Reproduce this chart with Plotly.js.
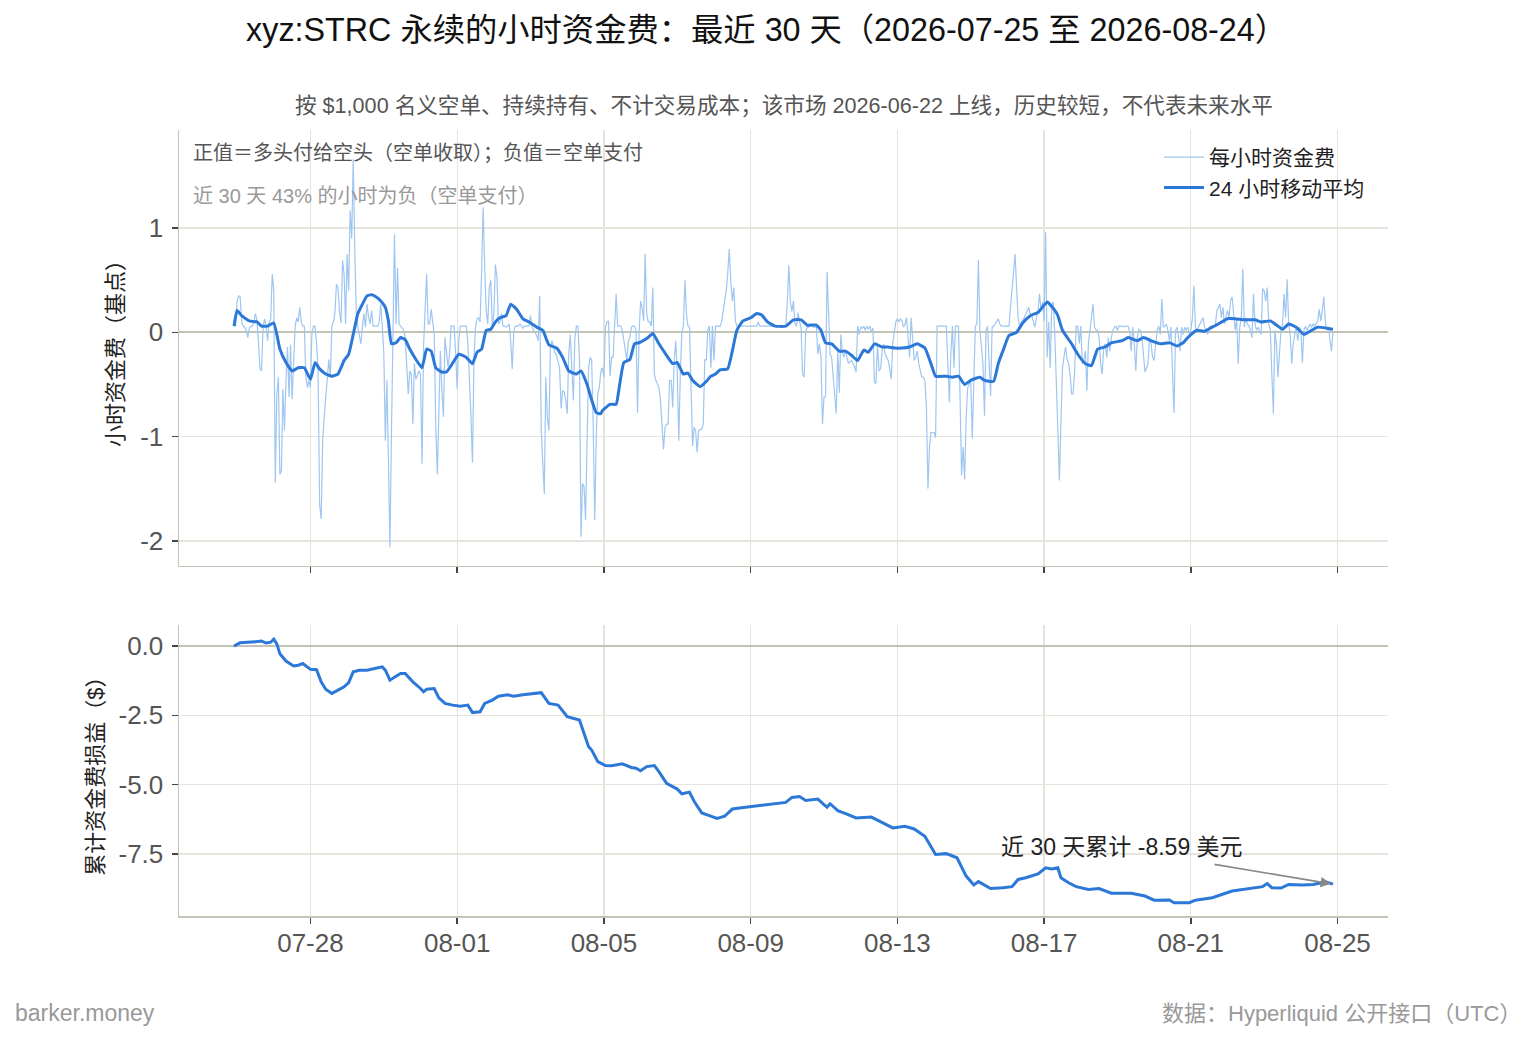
<!DOCTYPE html>
<html>
<head>
<meta charset="utf-8">
<script src="https://cdn.plot.ly/plotly-3.0.1.min.js"></script>
<style>
  html, body { margin: 0; padding: 0; background: #fff; }
  #chart { width: 1535px; height: 1039px; }
</style>
</head>
<body>
<div id="chart"></div>
<script>
// first hour of the window (UTC), one value per hour after it
const startUtc = Date.UTC(2026, 6, 25, 22);

// hourly funding, basis points
const hourlyBp = [
  0.06, 0.06, 0.30, 0.35, 0.34, 0.10, 0.06, 0.05, 0.02, -0.05, 0.04, 0.06, 0.06, 0.10, 0.18, 0.12, -0.10, -0.35, -0.37, 0.05, 0.13, 0.06, -0.08, 0.10,
  0.12, 0.56, 0.40, -1.44, -0.60, -0.43, -1.36, -1.33, -0.54, -0.94, -0.46, -0.14, -0.62, -0.12, -0.64, -0.30, 0.06, 0.14, 0.10, 0.24, 0.10, 0.06, 0.06, -0.42,
  -0.53, -0.46, -0.53, 0.00, 0.06, 0.06, -0.10, -0.37, -1.65, -1.79, -1.04, -0.81, -0.62, -0.40, -0.26, -0.43, 0.06, 0.10, 0.18, 0.46, 0.43, 0.20, 0.09, 0.69,
  0.56, 0.08, 0.75, 0.40, 1.17, 0.90, 1.66, 0.81, 0.18, 0.05, -0.02, -0.11, 0.06, 0.18, 0.05, 0.27, 0.15, 0.08, 0.21, 0.06, 0.06, 0.06, 0.06, 0.10,
  0.27, 0.06, -0.20, -1.04, -0.46, -1.20, -2.06, -0.97, 0.11, 0.94, 0.08, 0.62, 0.08, 0.06, 0.05, 0.02, -0.05, -0.30, -0.59, -0.37, -0.40, -0.88, -0.30, -0.45,
  -0.40, -0.37, -0.40, -1.26, -0.14, 0.20, 0.56, 0.08, 0.08, 0.22, 0.10, -0.02, -0.91, -1.36, -0.78, -0.18, -0.56, -0.81, -0.05, -0.20, -0.33, -0.21, 0.06, 0.06,
  0.06, -0.20, -0.54, -0.10, 0.06, 0.06, 0.06, 0.06, 0.06, -0.10, -0.40, -0.80, -1.25, -0.24, 0.05, 0.13, 0.14, 0.10, 0.59, 1.20, 0.62, 0.21, 0.08, 0.43,
  0.50, 0.05, 0.18, 0.65, 0.53, 0.08, 0.10, 0.18, 0.06, 0.06, 0.05, 0.06, 0.08, -0.08, -0.35, 0.00, 0.06, 0.06, 0.06, 0.08, 0.06, 0.04, 0.06, 0.06,
  0.06, 0.06, 0.16, 0.05, 0.02, 0.00, -0.03, -0.08, 0.35, -0.94, -1.30, -1.55, -0.43, -0.81, -0.94, -0.14, -0.08, -0.14, -0.20, -0.22, -0.27, -0.34, -0.73, -0.56,
  -0.57, -0.65, -0.78, -0.21, -0.02, -0.40, -0.65, -0.05, 0.06, 0.06, -0.24, -1.96, -1.45, -1.48, -1.80, -1.04, -0.34, -0.24, -0.27, -0.90, -1.80, -1.00, -0.59, -0.53,
  -0.37, -0.34, -0.43, 0.05, 0.10, 0.11, -0.42, -0.24, -0.24, 0.06, 0.37, 0.06, 0.06, 0.06, 0.02, -0.08, -0.21, -0.27, -0.08, -0.05, 0.05, 0.06, 0.06, 0.02,
  -0.77, -0.02, 0.30, 0.24, 0.11, 0.75, 0.18, 0.10, 0.10, 0.06, 0.43, -0.40, -0.46, -0.50, -0.53, -0.65, -0.88, -1.12, -0.91, -0.88, -0.88, -0.46, -0.46, -0.72,
  -0.27, -0.08, -0.40, -1.04, -0.40, 0.00, 0.06, 0.50, 0.18, 0.06, 0.05, -0.46, -1.09, -0.91, -0.94, -1.15, -0.94, -0.93, -0.93, -0.88, -0.26, -0.27, 0.03, 0.06,
  -0.34, 0.06, -0.27, 0.06, 0.06, 0.06, 0.06, 0.10, 0.21, 0.27, 0.40, 0.56, 0.80, 0.50, 0.30, 0.43, 0.11, 0.06, 0.06, 0.06, 0.06, 0.06, 0.06, 0.06,
  0.06, 0.06, 0.06, 0.06, 0.06, 0.06, 0.06, 0.10, 0.06, 0.06, 0.06, 0.06, 0.06, 0.06, 0.06, 0.06, 0.06, 0.06, 0.06, 0.06, 0.06, 0.06, 0.06, 0.06,
  0.06, 0.06, 0.30, 0.64, 0.29, 0.20, 0.30, 0.08, 0.06, 0.19, 0.10, 0.05, -0.40, -0.43, 0.00, 0.05, 0.05, 0.06, 0.06, 0.05, 0.05, 0.05, -0.21, -0.11,
  -0.24, -0.88, -0.62, -0.62, 0.58, 0.19, -0.21, -0.24, -0.46, -0.60, -0.78, -0.18, -0.58, -0.02, -0.19, -0.24, -0.18, -0.25, -0.30, -0.28, -0.27, -0.30, -0.33, -0.38,
  0.06, -0.02, 0.05, 0.04, 0.06, 0.02, 0.06, 0.03, 0.06, 0.00, 0.04, -0.48, -0.49, -0.11, -0.37, -0.35, -0.18, -0.11, -0.21, -0.24, -0.27, -0.35, -0.45, -0.10,
  0.02, 0.10, 0.13, 0.10, 0.13, 0.11, 0.05, 0.08, 0.14, -0.11, -0.24, 0.14, -0.11, -0.27, -0.24, -0.18, -0.30, -0.38, -0.43, -0.43, -0.46, -0.72, -1.50, -1.10,
  -0.96, -0.96, -0.96, -1.01, 0.06, 0.06, 0.06, 0.06, 0.06, 0.06, 0.06, -0.30, -0.67, -0.21, 0.06, -0.34, 0.06, 0.06, 0.06, -0.62, -1.37, -1.10, -1.41, -0.82,
  -0.53, -0.50, -0.46, -1.02, -0.50, 0.06, 0.08, 0.69, 0.02, -0.14, -0.30, -0.80, 0.02, 0.06, -0.30, -0.61, 0.05, 0.06, 0.08, 0.10, 0.13, 0.08, 0.06, 0.06,
  0.06, 0.06, 0.06, 0.06, 0.24, 0.40, 0.53, 0.75, 0.43, 0.14, 0.06, 0.10, 0.12, 0.14, 0.18, 0.20, 0.24, 0.16, 0.16, 0.10, 0.05, 0.14, 0.21, 0.37,
  0.21, 0.29, 0.11, 0.96, -0.24, 0.10, -0.34, 0.27, 0.29, -0.02, -0.62, -0.94, -1.42, -0.78, -0.34, -0.24, -0.14, -0.25, -0.30, -0.40, -0.59, -0.59, -0.37, 0.06,
  0.06, -0.11, 0.06, -0.30, -0.27, -0.18, -0.56, -0.10, 0.05, 0.14, 0.27, 0.05, 0.02, 0.02, -0.05, -0.30, -0.40, -0.14, -0.11, -0.24, -0.05, -0.18, -0.05, 0.02,
  0.05, 0.06, 0.02, 0.06, 0.06, 0.06, 0.05, 0.06, 0.06, 0.06, 0.00, -0.18, 0.05, -0.10, -0.37, -0.05, 0.03, 0.02, -0.05, -0.20, -0.38, -0.34, -0.30, -0.05,
  -0.11, -0.24, -0.27, -0.11, 0.02, 0.06, -0.02, 0.32, 0.05, 0.06, 0.08, 0.02, -0.08, 0.05, -0.30, -0.77, 0.02, 0.05, -0.05, -0.18, 0.05, -0.02, 0.05, 0.02,
  0.05, -0.02, 0.02, 0.14, 0.45, 0.05, 0.02, 0.06, 0.08, 0.11, 0.14, 0.05, 0.02, -0.02, 0.04, 0.06, 0.06, 0.06, 0.06, 0.21, 0.24, 0.27, 0.14, 0.24,
  0.08, 0.15, 0.21, 0.14, 0.30, 0.34, 0.21, 0.02, 0.14, -0.30, 0.05, 0.13, 0.61, 0.05, 0.14, 0.08, 0.06, 0.02, -0.05, 0.37, 0.08, 0.02, 0.05, 0.02,
  -0.02, 0.42, 0.40, 0.30, 0.43, 0.08, 0.02, -0.40, -0.78, 0.02, -0.11, -0.43, -0.24, 0.02, 0.08, 0.37, 0.14, 0.51, 0.10, -0.02, -0.30, -0.11, -0.02, 0.05,
  -0.08, 0.05, 0.02, -0.29, 0.02, 0.06, 0.02, 0.05, 0.08, 0.05, 0.08, 0.06, 0.08, 0.11, 0.22, 0.11, 0.21, 0.34, 0.10, 0.02, 0.05, -0.05, -0.18, 0.00
];

// 24h moving average, basis points (hour offset, value)
const maHours = [0, 2, 5, 10, 15, 18, 22, 26, 30, 34, 38, 42, 46, 50, 53, 56, 60, 64, 68, 72, 75, 78, 81, 84, 87, 90, 93, 96, 99, 101, 103, 106, 109, 112, 115,
  119, 123, 126, 129, 132, 136, 139, 142, 147, 152, 156, 159, 162, 165, 168, 171, 174, 178, 181, 185, 189, 193, 198, 202, 206, 211, 215, 219, 224, 227, 231, 234, 237, 240,
  241, 246, 250, 252, 255, 259, 262, 265, 270, 274, 278, 283, 287, 290, 294, 297, 300, 305, 309, 312, 315, 318, 323, 326, 329, 333, 338, 342,
  345, 349, 354, 361, 366, 371, 375, 381, 384, 387, 391, 396, 400, 404, 408, 412, 415, 419, 424, 428, 432, 437, 442, 447, 452, 456, 459, 466, 470, 474, 478, 482, 488, 491, 497, 500, 503, 507, 512, 516, 521, 526, 532, 537,
  539, 542, 548, 552, 557, 561, 565, 570, 574, 581, 585, 591, 595, 600, 606, 612, 617, 621, 624, 630, 635, 640, 644, 650, 655, 661, 668, 672, 678, 682, 686, 690, 695, 700, 705, 709, 715, 719];
const maBp = [0.06, 0.21, 0.16, 0.11, 0.10, 0.06, 0.06, 0.09, -0.16, -0.29, -0.37, -0.34, -0.34, -0.45, -0.29, -0.35, -0.40, -0.42, -0.40, -0.27, -0.21, -0.02, 0.18, 0.27, 0.35, 0.36, 0.34, 0.30, 0.24, 0.11, -0.11, -0.10, -0.05, -0.07, -0.16,
  -0.26, -0.34, -0.16, -0.18, -0.34, -0.38, -0.38, -0.32, -0.21, -0.24, -0.30, -0.19, -0.16, 0.02, 0.03, 0.10, 0.14, 0.16, 0.27, 0.22, 0.13, 0.10, 0.05, 0.02, -0.12, -0.15, -0.24, -0.37, -0.40, -0.37, -0.50, -0.65, -0.77, -0.78,
  -0.75, -0.69, -0.69, -0.53, -0.29, -0.26, -0.11, -0.10, -0.06, -0.01, -0.11, -0.22, -0.30, -0.29, -0.40, -0.39, -0.46, -0.52, -0.47, -0.42, -0.40, -0.36, -0.35, -0.18, 0.02, 0.11, 0.14, 0.18,
  0.17, 0.10, 0.06, 0.06, 0.12, 0.12, 0.07, 0.07, 0.02, -0.10, -0.11, -0.18, -0.18, -0.22, -0.27, -0.17, -0.19, -0.11, -0.14, -0.14, -0.15, -0.15, -0.14, -0.11, -0.15, -0.30, -0.42, -0.42, -0.43, -0.42, -0.50, -0.46, -0.43, -0.46, -0.47, -0.30, -0.18, -0.03, 0.00, 0.09, 0.16, 0.19, 0.29, 0.21,
  0.16, 0.02, -0.11, -0.21, -0.30, -0.32, -0.16, -0.14, -0.10, -0.08, -0.05, -0.08, -0.05, -0.08, -0.11, -0.10, -0.13, -0.10, -0.05, 0.02, 0.01, 0.05, 0.08, 0.13, 0.13, 0.12, 0.12, 0.10, 0.11, 0.07, 0.03, 0.08, 0.05, -0.02, 0.02, 0.05, 0.04, 0.03];

// cumulative funding PnL on $1,000 short, USD (hour offset, value)
const cumHours = [0, 4, 14, 18, 21, 24, 26, 28, 30, 34, 39, 42, 45, 50, 54, 57, 60, 64, 68, 72, 75, 78, 82, 87, 92, 97, 99, 102, 106, 109, 112, 117, 122, 124, 126, 131, 134, 138, 143, 148, 153, 156, 161, 164, 169, 173, 179, 183, 189, 199, 201,
  206, 212, 218, 226, 232, 234, 238, 243, 247, 254, 260, 263, 266, 270, 275, 278, 283, 290, 293, 298, 301, 306, 311, 316, 321, 326, 332, 358, 361, 365, 370, 374, 382, 386, 388, 390, 395, 401, 407, 417, 424, 431, 439, 445,
  452, 456, 459, 466, 473, 479, 484, 487, 491, 495, 503, 509, 513, 518, 526, 531, 535, 539, 541, 546, 551, 559, 566, 574, 587, 596, 602, 612, 615, 625, 629, 640, 653, 663, 673, 676, 679, 685, 690, 699, 706, 714, 719];
const cumUsd = [0, 0.12, 0.16, 0.18, 0.11, 0.14, 0.25, 0.08, -0.28, -0.54, -0.72, -0.69, -0.63, -0.84, -0.85, -1.29, -1.56, -1.71, -1.59, -1.47, -1.32, -0.93, -0.87, -0.87, -0.81, -0.75, -0.87, -1.23, -1.09, -0.99, -0.99, -1.29, -1.53, -1.65, -1.56, -1.53, -1.87, -2.07, -2.13, -2.17, -2.13, -2.40, -2.37, -2.07, -1.95, -1.81, -1.76, -1.81, -1.76, -1.68, -1.68,
  -2.07, -2.13, -2.55, -2.67, -3.63, -3.75, -4.17, -4.31, -4.32, -4.25, -4.38, -4.41, -4.50, -4.35, -4.31, -4.53, -4.95, -5.16, -5.33, -5.27, -5.60, -6.02, -6.12, -6.22, -6.14, -5.88, -5.83, -5.66, -5.64, -5.46, -5.43, -5.57, -5.52, -5.72, -5.81, -5.69, -5.94, -6.06, -6.20, -6.17, -6.35, -6.56, -6.50, -6.60,
  -6.86, -7.22, -7.52, -7.49, -7.64, -8.30, -8.62, -8.50, -8.63, -8.75, -8.72, -8.68, -8.42, -8.36, -8.22, -8.00, -8.04, -8.00, -8.36, -8.54, -8.68, -8.78, -8.75, -8.92, -8.92, -9.02, -9.17, -9.16, -9.26, -9.26, -9.17, -9.08, -8.84, -8.75, -8.68, -8.57, -8.72, -8.73, -8.60, -8.62, -8.60, -8.51, -8.59];

const topTicks = [-2, -1, 0, 1];
const topTickText = ["-2", "-1", "0", "1"];
const bottomTicks = [-7.5, -5, -2.5, 0];
const bottomTickText = ["-7.5", "-5.0", "-2.5", "0.0"];

function hourToDate(h) {
  return new Date(startUtc + h * 3600000).toISOString().slice(0, 19).replace("T", " ");
}

const hourlyX = hourlyBp.map((v, i) => hourToDate(i));
const maX = maHours.map(hourToDate);
const cumX = cumHours.map(hourToDate);
const lastX = cumX[cumX.length - 1];
const lastY = cumUsd[cumUsd.length - 1];

// Latin glyphs from Liberation Sans, CJK falls back to Noto Sans CJK SC
const font = "Liberation Sans, Noto Sans CJK SC, sans-serif";
const gridColor = "#e6e4dd";
const spineColor = "#c6c4b8";
const tickColor = "#555";

const traces = [
  {
    x: hourlyX, y: hourlyBp, type: "scatter", mode: "lines",
    name: "每小时资金费",
    line: { color: "#9fc6f1", width: 1.2 },
    xaxis: "x", yaxis: "y",
    hoverinfo: "skip",
  },
  {
    x: maX, y: maBp, type: "scatter", mode: "lines",
    name: "24 小时移动平均",
    line: { color: "#2b78d8", width: 3, shape: "spline", smoothing: 0.4 },
    xaxis: "x", yaxis: "y",
  },
  {
    x: cumX, y: cumUsd, type: "scatter", mode: "lines",
    name: "累计",
    line: { color: "#2b78d8", width: 3 },
    xaxis: "x2", yaxis: "y2",
    showlegend: false,
  },
];

const xCommon = {
  type: "date",
  range: ["2026-07-24 10:00", "2026-08-26 09:00"],
  tick0: "2026-07-28",
  dtick: 4 * 86400000,
  tickformat: "%m-%d",
  ticks: "outside",
  ticklen: 6,
  tickwidth: 1.5,
  tickcolor: "#444",
  showgrid: true,
  gridcolor: gridColor,
  gridwidth: 1.2,
  showline: true,
  linecolor: spineColor,
  linewidth: 1.5,
  zeroline: false,
  tickfont: { family: font, size: 26, color: tickColor },
};

const yCommon = {
  ticks: "outside",
  ticklen: 6,
  tickwidth: 1.5,
  tickcolor: "#444",
  ticklabelstandoff: 3,
  showgrid: true,
  gridcolor: gridColor,
  gridwidth: 1.2,
  showline: true,
  linecolor: spineColor,
  linewidth: 1.5,
  zeroline: true,
  zerolinecolor: "#c3c2b6",
  zerolinewidth: 2,
  tickfont: { family: font, size: 26, color: tickColor },
};

const layout = {
  width: 1535,
  height: 1039,
  margin: { l: 179, r: 147, t: 130, b: 123 },
  paper_bgcolor: "#fff",
  plot_bgcolor: "#fff",
  font: { family: font, color: "#222" },
  title: {
    text: "xyz:STRC 永续的小时资金费：最近 30 天（2026-07-25 至 2026-08-24）",
    font: { family: font, size: 32.3, color: "#111" },
    x: 0.4994, xanchor: "center",
    y: 1 - 30 / 1039, yanchor: "middle",
  },
  showlegend: true,
  legend: {
    x: (1159 - 179) / 1209, xanchor: "left",
    y: (916 - 137) / 786, yanchor: "top",
    bgcolor: "rgba(0,0,0,0)",
    itemwidth: 40,
    font: { family: font, size: 21, color: "#222" },
    tracegroupgap: 0,
  },
  xaxis: Object.assign({}, xCommon, { anchor: "y", showticklabels: false }),
  xaxis2: Object.assign({}, xCommon, { anchor: "y2", matches: "x", ticklabelstandoff: -3 }),
  yaxis: Object.assign({}, yCommon, {
    domain: [0.4453, 1],
    range: [-2.24, 1.94],
    tickvals: topTicks,
    ticktext: topTickText,
    title: { text: "小时资金费（基点）", font: { family: font, size: 22, color: "#222" }, standoff: 10 },
  }),
  yaxis2: Object.assign({}, yCommon, {
    domain: [0, 0.3702],
    range: [-9.74, 0.76],
    tickvals: bottomTicks,
    ticktext: bottomTickText,
    title: { text: "累计资金费损益（$）", font: { family: font, size: 22, color: "#222" }, standoff: 9 },
  }),
  annotations: [
    {
      text: "按 $1,000 名义空单、持续持有、不计交易成本；该市场 2026-06-22 上线，历史较短，不代表未来水平",
      xref: "paper", yref: "paper", x: 0.5, y: (916 - 106) / 786,
      xanchor: "center", yanchor: "middle", showarrow: false,
      font: { family: font, size: 21.6, color: "#555" },
    },
    {
      text: "正值＝多头付给空头（空单收取）；负值＝空单支付",
      xref: "paper", yref: "paper", x: 12 / 1209, y: (916 - 153) / 786,
      xanchor: "left", yanchor: "middle", showarrow: false,
      font: { family: font, size: 20, color: "#555" },
    },
    {
      text: "近 30 天 43% 的小时为负（空单支付）",
      xref: "paper", yref: "paper", x: 12 / 1209, y: (916 - 196) / 786,
      xanchor: "left", yanchor: "middle", showarrow: false,
      font: { family: font, size: 20, color: "#999" },
    },
    {
      text: "近 30 天累计 -8.59 美元",
      xref: "paper", yref: "paper", x: (1122 - 179) / 1209, y: (916 - 847) / 786,
      xanchor: "center", yanchor: "middle", showarrow: false,
      font: { family: font, size: 23, color: "#222" },
    },
    {
      text: "",
      xref: "x2", yref: "y2", x: lastX, y: lastY,
      ax: -120, ay: -20,
      showarrow: true, arrowhead: 2, arrowsize: 1.3, arrowwidth: 1.6,
      arrowcolor: "#888", standoff: 2,
    },
    {
      text: "barker.money",
      xref: "paper", yref: "paper", x: -166 / 1209, y: (916 - 1013) / 786,
      xanchor: "left", yanchor: "middle", showarrow: false,
      font: { family: font, size: 23, color: "#999" },
    },
    {
      text: "数据：Hyperliquid 公开接口（UTC）",
      xref: "paper", yref: "paper", x: (1523 - 179) / 1209, y: (916 - 1013) / 786,
      xanchor: "right", yanchor: "middle", showarrow: false,
      font: { family: font, size: 22, color: "#999" },
    },
  ],
};

const config = { responsive: false, displayModeBar: false, staticPlot: true };

Plotly.newPlot("chart", traces, layout, config);
</script>
</body>
</html>
